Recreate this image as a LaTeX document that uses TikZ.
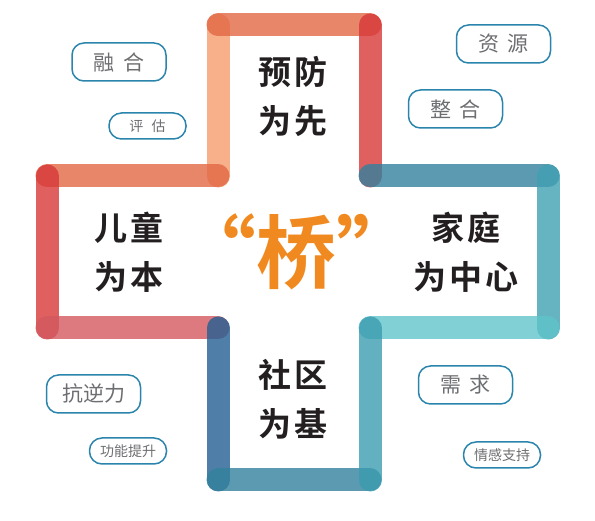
\documentclass[tikz,border=0pt]{standalone}
\usepackage{fontspec}
\newfontfamily\cjk{Noto Sans CJK SC}
\newfontfamily\cjkb{Noto Sans CJK SC Bold}
\newfontfamily\cjkbs[LetterSpace=9]{Noto Sans CJK SC Bold}
\definecolor{barA}{RGB}{226,104,69}
\definecolor{barB}{RGB}{245,156,109}
\definecolor{barC}{RGB}{216,56,56}
\definecolor{barD}{RGB}{211,89,96}
\definecolor{barE}{RGB}{35,95,146}
\definecolor{barF}{RGB}{50,129,156}
\definecolor{barG}{RGB}{59,156,176}
\definecolor{barH}{RGB}{64,160,179}
\definecolor{barI}{RGB}{96,196,203}
\definecolor{boxline}{RGB}{42,132,172}
\definecolor{graytext}{RGB}{109,110,113}
\definecolor{maintext}{RGB}{35,31,32}
\definecolor{qiao}{RGB}{240,138,32}
\tikzset{
  bar/.style={line width=23pt, line cap=round, opacity=0.8},
  mainlabel/.style={font=\cjkbs\fontsize{33}{49}\selectfont, text=maintext, align=center, inner sep=0pt},
  bigtag/.style={draw=boxline, line width=1.5pt, rounded corners=12pt, minimum width=94pt, minimum height=38pt, font=\cjk\fontsize{21}{21}\selectfont, text=graytext, inner sep=0pt},
  smalltag/.style={draw=boxline, line width=1.5pt, rounded corners=12.5pt, minimum width=77pt, minimum height=26pt, font=\cjk\fontsize{14}{14}\selectfont, text=graytext, inner sep=0pt},
}
\begin{document}
\begin{tikzpicture}[x=1pt,y=-1pt]
\useasboundingbox (0,0) rectangle (595,521);
% corner coordinates
\coordinate (t1) at (218,25);
\coordinate (t2) at (370,25);
\coordinate (a1) at (218,176);
\coordinate (a2) at (370,176);
\coordinate (l1) at (47,176);
\coordinate (l2) at (47,328);
\coordinate (b1) at (218,328);
\coordinate (b2) at (370,328);
\coordinate (r1) at (548,176);
\coordinate (r2) at (548,328);
\coordinate (d1) at (218,480);
\coordinate (d2) at (370,480);
% bars
\draw[bar, barB] (t1) -- (a1);
\draw[bar, barA] (t1) -- (t2);
\draw[bar, barC] (t2) -- (a2);
\draw[bar, barA] (l1) -- (a1);
\draw[bar, barC] (l1) -- (l2);
\draw[bar, barD] (l2) -- (b1);
\draw[bar, barF] (a2) -- (r1);
\draw[bar, barH] (r1) -- (r2);
\draw[bar, barI] (b2) -- (r2);
\draw[bar, barE] (b1) -- (d1);
\draw[bar, barF] (d1) -- (d2);
\draw[bar, barG] (b2) -- (d2);
% main labels
\node[mainlabel] (top) at (293,96) {预防\\为先};
\node[mainlabel] (left) at (129,252) {儿童\\为本};
\node[mainlabel] (right) at (466,252) {家庭\\为中心};
\node[mainlabel] (bottom) at (293,399) {社区\\为基};
\node[font=\cjkb\fontsize{80}{80}\selectfont, text=qiao, inner sep=0pt] (q) at (296,252) {“桥”};
% tags
\node[bigtag] (t_ronghe) at (119,62) {融\hspace{0.4em}合};
\node[smalltag] (t_pinggu) at (147.5,126) {评\hspace{0.6em}估};
\node[bigtag] (t_ziyuan) at (503.5,44) {资\hspace{0.4em}源};
\node[bigtag] (t_zhenghe) at (455.5,109) {整\hspace{0.4em}合};
\node[bigtag] (t_kangni) at (93.5,394) {抗逆力};
\node[smalltag] (t_gongneng) at (128,451) {功能提升};
\node[bigtag] (t_xuqiu) at (465.5,385) {需\hspace{0.4em}求};
\node[smalltag] (t_qinggan) at (502,455) {情感支持};
\end{tikzpicture}
\end{document}
